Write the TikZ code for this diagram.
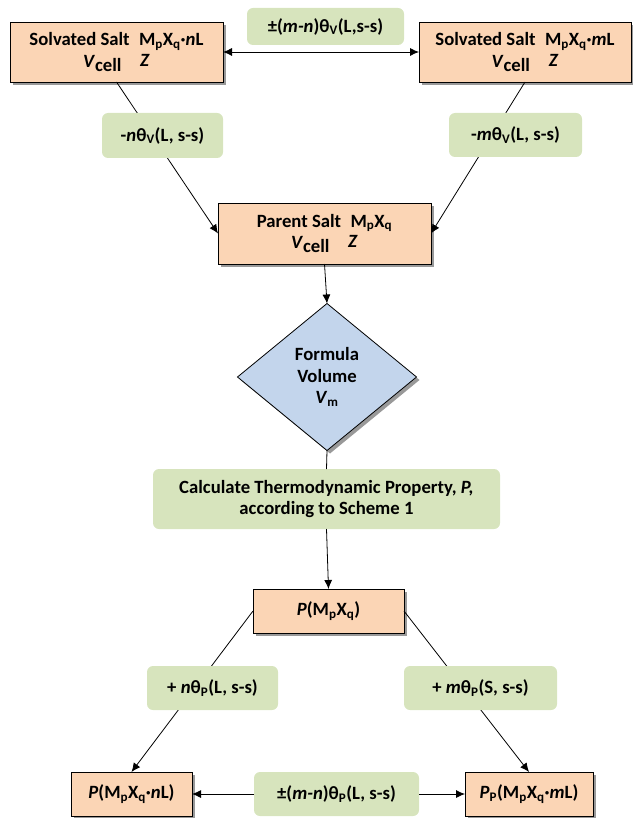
\documentclass[tikz,border=0pt]{standalone}
\usepackage{fontspec}
\setmainfont{Carlito}
\usetikzlibrary{shapes.geometric,shadows,arrows.meta}
\definecolor{peach}{HTML}{FBD5B5}
\definecolor{sage}{HTML}{D7E4BD}
\definecolor{sky}{HTML}{C3D5EC}
\newcommand{\sbs}[1]{\textsubscript{#1}}
\newcommand{\vcz}{\textit{V}\raisebox{-4pt}{cell}\quad\raisebox{1pt}{\textit{Z}}}
\begin{document}
\begin{tikzpicture}[x=1pt,y=-1pt,
 font=\fontsize{18.7}{21.5}\selectfont\bfseries,
 box/.style={draw=black, line width=0.8pt, fill=peach, inner sep=0pt, outer sep=0pt, align=center,
   drop shadow={shadow xshift=3pt, shadow yshift=-3pt, fill=gray!80, opacity=1}},
 lab/.style={fill=sage, rounded corners=6pt, inner sep=0pt, outer sep=0pt, align=center},
 conn/.style={line width=0.8pt},
 arr/.style={conn, -{Latex[length=9pt,width=8pt]}},
 darr/.style={conn, {Latex[length=9pt,width=8pt]}-{Latex[length=9pt,width=8pt]}},
]
\useasboundingbox (0,0) rectangle (632,818);

% boxes
\node[box, minimum width=213pt, minimum height=60pt] (tl) at (116.5,52)
  {Solvated Salt\enspace M\sbs{p}X\sbs{q}·\textit{n}L\\\vcz};
\node[box, minimum width=212pt, minimum height=60pt] (tr) at (525,52)
  {Solvated Salt\enspace M\sbs{p}X\sbs{q}·\textit{m}L\\\vcz};
\node[box, minimum width=213pt, minimum height=61pt] (ps) at (324.5,233.5)
  {Parent Salt\enspace M\sbs{p}X\sbs{q}\\\vcz};
\node[diamond, draw=black, line width=0.8pt, fill=sky, inner sep=0pt, outer sep=0pt,
  minimum width=179pt, minimum height=147pt,
  drop shadow={shadow xshift=3pt, shadow yshift=-3pt, fill=gray!80, opacity=1}] (dm) at (327,377) {};
\node[align=center] (dmt) at (dm.center) {Formula\\Volume\\\textit{V}\sbs{m}};
\node[lab, minimum width=347pt, minimum height=60pt] (calc) at (326.5,499)
  {Calculate Thermodynamic Property, \textit{P,}\\according to Scheme 1};
\node[box, minimum width=151pt, minimum height=44pt] (pp) at (328.5,611)
  {\textit{P}(M\sbs{p}X\sbs{q})};
\node[box, minimum width=121pt, minimum height=44pt] (bl) at (131.5,794)
  {\textit{P}(M\sbs{p}X\sbs{q}·\textit{n}L)};
\node[box, minimum width=128pt, minimum height=44pt] (br) at (529,794)
  {\textit{P}\sbs{P}(M\sbs{p}X\sbs{q}·\textit{m}L)};

% connectors
\draw[darr] (tl.east) -- (tr.west);
\draw[arr] (tl.south) -- (ps.west);
\draw[arr] (tr.south) -- (ps.east);
\draw[arr] (ps.south) -- (dm.north);
\draw[conn] (dm.south) -- (calc.north);
\draw[arr] (calc.south) -- (pp.north);
\draw[arr] (pp.west) -- (bl.north);
\draw[arr] (pp.east) -- (br.north);

% labels
\node[lab, minimum width=157pt, minimum height=37pt] (tg) at (325.5,26.5)
  {±(\textit{m-n})θ\sbs{V}(L,s-s)};
\node[lab, minimum width=121pt, minimum height=45pt] (lg) at (162.5,135.5)
  {-\textit{n}θ\sbs{V}(L, s-s)};
\node[lab, minimum width=133pt, minimum height=44pt] (rg) at (515.5,135)
  {-\textit{m}θ\sbs{V}(L, s-s)};
\node[lab, minimum width=131pt, minimum height=44pt] (blg) at (212.5,688)
  {+ \textit{n}θ\sbs{P}(L, s-s)};
\node[lab, minimum width=153pt, minimum height=44pt] (brg) at (480.5,688)
  {+ \textit{m}θ\sbs{P}(S, s-s)};
\node[lab, minimum width=165pt, minimum height=44pt] (bg) at (336.5,794)
  {±(\textit{m-n})θ\sbs{P}(L, s-s)};
\draw[arr] (bg.west) -- (bl.east);
\draw[arr] (bg.east) -- (br.west);
\end{tikzpicture}
\end{document}
